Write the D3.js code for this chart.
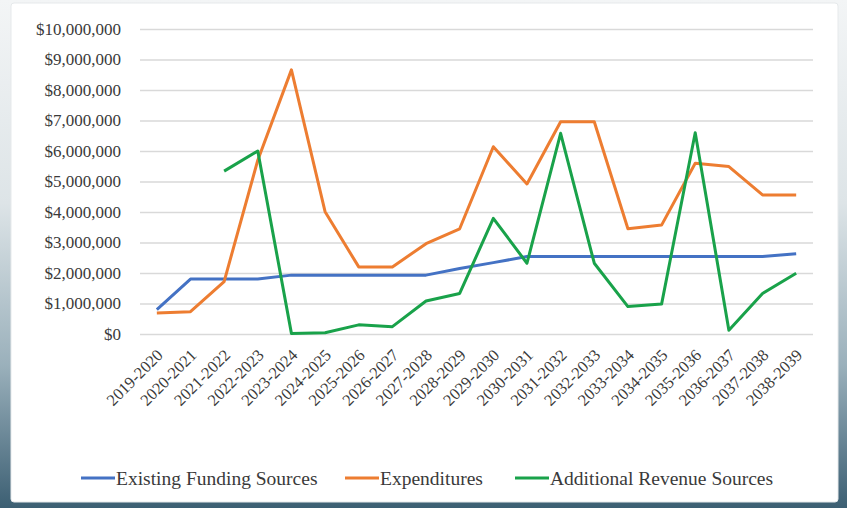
<!DOCTYPE html>
<html>
<head>
<meta charset="utf-8">
<script src="https://cdn.jsdelivr.net/npm/d3@7"></script>
<style>
  body { margin: 0; width: 847px; height: 508px; overflow: hidden; }
  svg { display: block; }
  text { font-family: "Liberation Serif", "DejaVu Serif", serif; fill: #3a3a3a; }
</style>
</head>
<body>
<svg width="847" height="508"></svg>
<script>
var years = ["2019-2020","2020-2021","2021-2022","2022-2023","2023-2024","2024-2025","2025-2026",
  "2026-2027","2027-2028","2028-2029","2029-2030","2030-2031","2031-2032","2032-2033","2033-2034",
  "2034-2035","2035-2036","2036-2037","2037-2038","2038-2039"];

// values in dollars
var existing = [800000,1800000,1800000,1800000,1930000,1930000,1930000,1930000,1930000,2150000,
  2340000,2540000,2540000,2540000,2540000,2540000,2540000,2540000,2540000,2630000];
var expenditures = [690000,730000,1720000,5700000,8660000,4010000,2200000,2200000,2960000,3450000,
  6140000,4920000,6960000,6960000,3450000,3570000,5600000,5490000,4560000,4560000];
var additional = [null,null,5340000,6000000,20000,40000,300000,240000,1080000,1330000,
  3790000,2320000,6580000,2320000,900000,980000,6600000,120000,1330000,1990000];

var seriesNames = ["Existing Funding Sources","Expenditures","Additional Revenue Sources"];
var seriesColors = ["#4472c4","#ed7d31","#19a24a"];
var yTicks = [0,1000000,2000000,3000000,4000000,5000000,6000000,7000000,8000000,9000000,10000000];

var svg = d3.select("svg"),
    width = +svg.attr("width"),
    height = +svg.attr("height");

// background gradient behind the white panel
var defs = svg.append("defs");
var grad = defs.append("linearGradient").attr("id", "bg").attr("x1", 0).attr("y1", 0).attr("x2", 0).attr("y2", 1);
grad.append("stop").attr("offset", "0%").attr("stop-color", "#f3f5f6");
grad.append("stop").attr("offset", "40%").attr("stop-color", "#dde4e7");
grad.append("stop").attr("offset", "72%").attr("stop-color", "#9ab0bb");
grad.append("stop").attr("offset", "100%").attr("stop-color", "#3c5f73");

svg.append("rect").attr("width", width).attr("height", height).attr("fill", "url(#bg)");
svg.append("rect")
    .attr("x", 11).attr("y", 3).attr("width", 827).attr("height", 499)
    .attr("rx", 3)
    .attr("fill", "#ffffff")
    .attr("stroke", "#e6e9eb");

var margin = {left: 140, right: 34, top: 29, bottom: 174};

var x = d3.scaleBand()
    .domain(years)
    .range([margin.left, width - margin.right]);

var y = d3.scaleLinear()
    .domain([0, 10000000])
    .range([height - margin.bottom, margin.top]);

var fmt = function (d) { return "$" + d3.format(",")(d); };

// gridlines + y labels
var yAxis = svg.append("g")
    .attr("transform", "translate(" + margin.left + ",0)")
    .call(d3.axisLeft(y).tickValues(yTicks).tickFormat(fmt)
          .tickSize(-(width - margin.left - margin.right)).tickPadding(19));
yAxis.attr("font-family", null);
yAxis.select(".domain").remove();
yAxis.selectAll(".tick line").attr("stroke", "#d9d9d9").attr("stroke-width", 1.3);
yAxis.selectAll(".tick text")
    .attr("font-size", 17)
    .attr("fill", "#3a3a3a");

// x labels rotated
var xAxis = svg.append("g")
    .attr("transform", "translate(0," + (height - margin.bottom) + ")")
    .call(d3.axisBottom(x).tickSize(0).tickPadding(0));
xAxis.attr("font-family", null);
xAxis.select(".domain").remove();
xAxis.selectAll(".tick text")
    .attr("font-size", 16.5)
    .attr("fill", "#3a3a3a")
    .attr("text-anchor", "end")
    .attr("dy", "0.35em")
    .attr("transform", "translate(3,18) rotate(-45)");

var line = d3.line()
    .defined(function (d) { return d != null; })
    .x(function (d, i) { return x(years[i]) + x.bandwidth() / 2; })
    .y(function (d) { return y(d); });

[existing, expenditures, additional].forEach(function (vals, k) {
  svg.append("path")
      .datum(vals)
      .attr("fill", "none")
      .attr("stroke", seriesColors[k])
      .attr("stroke-width", 3)
      .attr("stroke-linejoin", "round")
      .attr("d", line);
});

// legend
var legendX = [81, 345, 515];
var legend = svg.append("g").attr("transform", "translate(0,478)");
seriesNames.forEach(function (name, k) {
  var g = legend.append("g").attr("transform", "translate(" + legendX[k] + ",0)");
  g.append("line").attr("x1", 0).attr("x2", 34).attr("y1", 0).attr("y2", 0)
      .attr("stroke", seriesColors[k]).attr("stroke-width", 3);
  g.append("text").attr("x", 35).attr("dy", "0.35em")
      .attr("font-size", 19.5).attr("fill", "#3a3a3a").text(name);
});
</script>
</body>
</html>
